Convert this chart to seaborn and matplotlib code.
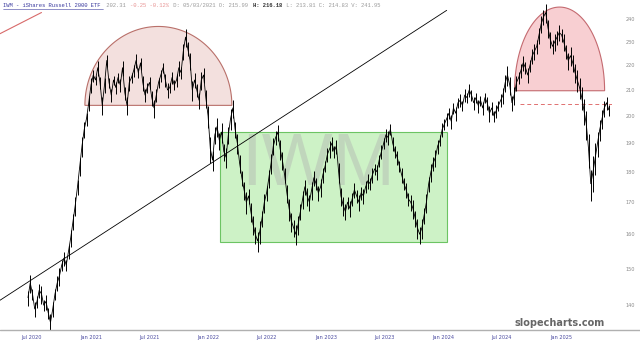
import numpy as np
import pandas as pd
import matplotlib
matplotlib.use("Agg")
import matplotlib.pyplot as plt
import matplotlib.dates as mdates
import seaborn as sns
from matplotlib.patches import Polygon, Rectangle
from matplotlib.lines import Line2D
from matplotlib.ticker import NullLocator

# ---------------- data (weekly) ----------------
start_date = "2020-06-19"
close = [
    142, 146, 143, 139, 141, 144, 143, 140, 141, 138,
    135.5, 139, 143, 146, 148, 151, 153, 151, 155, 159,
    164, 169, 175, 182, 189, 195, 199, 205, 212, 216,
    214, 219, 213, 204, 212, 222, 213, 208, 214, 211,
    215, 212, 219, 209, 204, 213, 215, 218, 222, 217,
    221, 213, 208, 211, 213, 207, 203, 208, 213, 216,
    219, 214, 210, 211, 215, 212, 214, 219, 217, 226,
    232, 227, 222, 210, 214, 210, 206, 214, 216, 207,
    200, 188, 184, 193, 196, 191, 194, 187, 185, 193,
    199, 203, 195, 190, 183, 178, 174, 170, 172, 167,
    163, 160, 158, 161, 165, 170, 173, 178, 183, 189,
    192, 194, 188, 184, 179, 173, 168, 164, 162, 160,
    163, 167, 171, 175, 172, 170, 174, 178, 176, 173,
    175, 179, 182, 186, 188, 190, 187, 189, 180, 172,
    169, 167, 170, 168, 171, 174, 172, 170, 173, 172,
    175, 177, 176, 179, 181, 180, 184, 187, 190, 193,
    192, 195, 190, 187, 185, 182, 179, 176, 174, 171,
    170, 168, 165, 162, 160, 162, 166, 170, 176, 180,
    183, 185, 189, 191, 195, 197, 199, 201, 198, 203,
    201, 205, 206, 204, 208, 207, 210, 208, 205, 207,
    204, 206, 203, 207, 205, 201, 203, 200, 202, 204,
    206, 208, 213, 216, 212, 205, 208, 213, 215, 218,
    221, 219, 216, 220, 224, 226, 228, 233, 238, 241,
    243, 236, 231, 228, 230, 232, 234, 233, 230, 226,
    222, 224, 221, 217, 214, 211, 207, 202, 197, 188,
    176, 180, 185, 190, 195, 199, 203, 205, 202.3,
]
week_range = [
    4, 5, 3, 4, 3, 4, 5, 3, 4, 3, 5, 4, 3, 4, 5, 3, 4, 3, 4, 5,
    5, 6, 5, 6, 7, 6, 5, 6, 6, 5, 4, 6, 5, 7, 6, 5, 4, 5, 4, 5,
    4, 5, 6, 5, 7, 6, 4, 5, 6, 4, 5, 6, 5, 4, 5, 6, 7, 5, 4, 5,
    4, 5, 6, 4, 5, 4, 5, 6, 5, 7, 8, 6, 7, 8, 6, 5, 6, 7, 6, 7,
    8, 9, 7, 6, 7, 6, 7, 6, 7, 6, 8, 7, 6, 7, 6, 5, 6, 7, 5, 6,
    6, 5, 6, 7, 5, 6, 5, 6, 7, 6, 5, 6, 7, 6, 5, 6, 7, 6, 5, 6,
    6, 5, 6, 5, 6, 5, 6, 5, 4, 5, 6, 5, 4, 5, 6, 5, 4, 5, 7, 6,
    6, 5, 4, 5, 4, 5, 4, 5, 4, 5, 4, 5, 4, 5, 4, 5, 4, 5, 4, 5,
    5, 4, 5, 4, 5, 4, 5, 4, 5, 4, 5, 6, 5, 6, 5, 6, 5, 6, 5, 6,
    5, 6, 5, 4, 5, 4, 5, 4, 5, 4, 5, 4, 5, 4, 5, 4, 5, 4, 5, 4,
    5, 4, 5, 4, 5, 6, 5, 4, 5, 4, 5, 6, 7, 8, 7, 6, 7, 6, 5, 6,
    6, 5, 6, 5, 6, 7, 6, 7, 8, 7, 9, 8, 7, 6, 7, 6, 7, 6, 7, 6,
    7, 8, 7, 8, 9, 8, 9, 10, 11, 12, 10, 12, 11, 9, 8, 7, 6, 5, 4,
]

# annotations drawn on the chart
left_dome = ("2020-12-13", "2022-03-15", 204.0, 236.7)
right_dome = ("2024-08-10", "2025-05-17", 209.7, 245.5)
box = ("2022-02-06", "2024-01-12", 157.6, 194.0)
trend_line = (("2020-03-24", 141.3), ("2024-01-12", 244.0))
red_line = (("2020-03-24", 233.5), ("2020-07-31", 243.0))
dashed_level = ("2024-08-26", 204.5)

ytick_vals = [140, 150, 160, 170, 180, 190, 200, 210, 220, 230, 240]
ytick_labels = [str(v) for v in ytick_vals]
xtick_dates = ["2020-07-01", "2021-01-01", "2021-07-01", "2022-01-01", "2022-07-01",
               "2023-01-01", "2023-07-01", "2024-01-01", "2024-07-01", "2025-01-01"]
xtick_labels = ["Jul 2020", "Jan 2021", "Jul 2021", "Jan 2022", "Jul 2022",
                "Jan 2023", "Jul 2023", "Jan 2024", "Jul 2024", "Jan 2025"]

header = [
    ("IWM - iShares Russell 2000 ETF", "#3b3b9e", "normal"),
    (" 202.31 ", "#9a9a9a", "normal"),
    ("-0.25 -0.12%", "#e89494", "normal"),
    (" D: 05/03/2021 O: 215.99 ", "#9a9a9a", "normal"),
    ("H: 216.18", "#333333", "bold"),
    (" L: 213.81 C: 214.83 V: 241.95", "#9a9a9a", "normal"),
]

# ---------------- drawing ----------------
sns.set_theme(style="white")
plt.rcParams["font.family"] = ["DejaVu Sans"]

dates = pd.date_range(start_date, periods=len(close), freq="7D")
close_a = np.array(close, dtype=float)
rng_a = np.array(week_range, dtype=float)
lo = close_a - 0.55 * rng_a
hi = close_a + 0.45 * rng_a

fig = plt.figure(figsize=(6.4, 3.45), dpi=100)
ax = fig.add_axes([0.0, 15 / 345, 612 / 640, 330 / 345])
ax.set_facecolor("white")

# price bars + line
ax.vlines(dates, lo, hi, color="black", lw=0.7, zorder=5)
sns.lineplot(x=dates, y=close_a, ax=ax, color="black", lw=0.6, zorder=6)

ax.set_yscale("log")
ax.set_ylim(133.6, 248.8)
ax.set_xlim(pd.Timestamp("2020-03-24"), pd.Timestamp("2025-06-09"))


def dnum(d):
    return mdates.date2num(pd.Timestamp(d))


def dome(spec, fc, ec):
    d0, d1, base, top = spec
    x0, x1 = dnum(d0), dnum(d1)
    c, a = (x0 + x1) / 2, (x1 - x0) / 2
    t = np.linspace(0, np.pi, 200)
    xs = c + a * np.cos(t)
    ys = np.exp(np.log(base) + (np.log(top) - np.log(base)) * np.sin(t))
    ax.add_patch(Polygon(np.column_stack([xs, ys]), closed=True, fc=fc, ec=ec,
                         lw=0.8, zorder=2))


dome(left_dome, "#f3e0de", "#b9706a")
dome(right_dome, "#f8cfd2", "#c46a70")

bx0, bx1, by0, by1 = box
ax.add_patch(Rectangle((dnum(bx0), by0), dnum(bx1) - dnum(bx0), by1 - by0,
                       fc="#cdf2c6", ec="#6cc463", lw=0.8, zorder=2))

# watermark
ax.text(dnum("2022-12-07"), 182.3, "IWM", fontsize=54, color="#b0b0b0", alpha=0.42,
        ha="center", va="center", family="Liberation Sans", zorder=3)

(t0, p0), (t1, p1) = trend_line
ax.plot([dnum(t0), dnum(t1)], [p0, p1], color="black", lw=0.6, zorder=4)
(r0, q0), (r1, q1) = red_line
ax.plot([dnum(r0), dnum(r1)], [q0, q1], color="#d86a6a", lw=0.8, zorder=4)
ax.plot([dnum(dashed_level[0]), ax.get_xlim()[1]], [dashed_level[1]] * 2,
        color="#e07070", lw=0.7, ls=(0, (4, 3)), zorder=4)

# axes styling
for s in ax.spines.values():
    s.set_visible(False)
ax.yaxis.tick_right()
ax.set_yticks(ytick_vals)
ax.set_yticklabels(ytick_labels)
ax.yaxis.set_minor_locator(NullLocator())
ax.set_xticks([dnum(d) for d in xtick_dates])
ax.set_xticklabels(xtick_labels)
ax.tick_params(axis="y", length=0, pad=10, labelsize=3.6, labelcolor="#8a8a8a")
ax.tick_params(axis="x", length=0, pad=3.5, labelsize=3.6, labelcolor="#4a4aa0")
ax.set_xlabel("")
ax.set_ylabel("")
ax.grid(False)

# bottom rule across the figure
fig.add_artist(Line2D([0, 1], [15 / 345, 15 / 345], transform=fig.transFigure,
                      color="#b0b0b0", lw=1.0))

# header
cw = 3.33
pos = 3
for txt, col, wt in header:
    fig.text(pos / 640, 1 - 5.5 / 345, txt, fontsize=4, color=col, weight=wt,
             family="Liberation Mono", ha="left", va="center")
    pos += len(txt) * cw
fig.add_artist(Line2D([3 / 640, (3 + 30 * cw) / 640], [1 - 9 / 345] * 2,
                      transform=fig.transFigure, color="#3b3b9e", lw=0.4))

fig.text(560 / 640, 1 - 323 / 345, "slopecharts.com", fontsize=7, weight="bold",
         color="#666666", ha="center", va="center")

fig.savefig("out.png", dpi=100)
